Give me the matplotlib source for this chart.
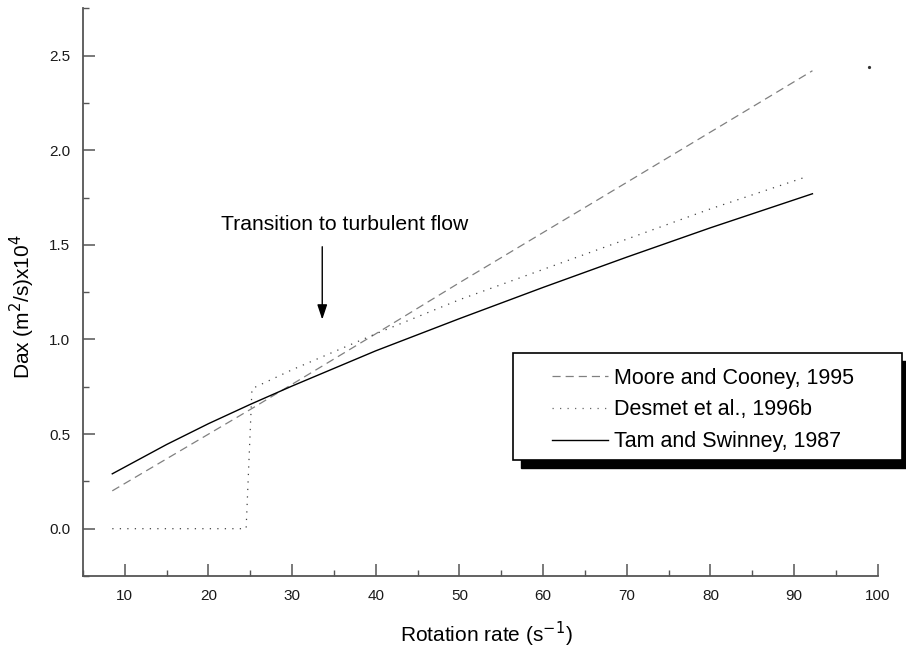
import matplotlib
matplotlib.use("Agg")
import matplotlib.pyplot as plt
from matplotlib.ticker import MultipleLocator
from matplotlib.patches import Rectangle
from matplotlib.lines import Line2D

plt.rcParams['font.family'] = ['Liberation Sans', 'DejaVu Sans']

# ---- data ----
moore_x = [8.5, 25, 40, 50, 70, 92.2]
moore_y = [0.20, 0.63, 1.03, 1.30, 1.83, 2.42]

desmet_x = [8.5, 24.5, 25.2, 30, 40, 50, 60, 70, 80, 91.5]
desmet_y = [0.0, 0.0, 0.74, 0.84, 1.03, 1.21, 1.37, 1.53, 1.69, 1.86]

tam_x = [8.5, 15, 20, 25, 30, 40, 50, 60, 70, 80, 92.2]
tam_y = [0.29, 0.445, 0.555, 0.657, 0.754, 0.94, 1.11, 1.275, 1.435, 1.59, 1.77]

stray_x = [99.0]
stray_y = [2.44]

arrow_x = 33.6
arrow_y_start = 1.49
arrow_y_end = 1.105
annot_text = "Transition to turbulent flow"
annot_x = 36.3
annot_y = 1.61

labels = ["Moore and Cooney, 1995", "Desmet et al., 1996b", "Tam and Swinney, 1987"]
x_ticks = [10, 20, 30, 40, 50, 60, 70, 80, 90, 100]
y_ticks = [0.0, 0.5, 1.0, 1.5, 2.0, 2.5]

W, H = 906, 651
fig = plt.figure(figsize=(W / 100, H / 100), dpi=100)
ax = fig.add_axes([83 / W, 75 / H, 794.7 / W, 567.7 / H])

ax.plot(moore_x, moore_y, color='#808080', lw=0.9, linestyle=(0, (6.5, 4)))
ax.plot(desmet_x, desmet_y, color='#444444', lw=0.9, linestyle=(0, (1, 5)))
ax.plot(tam_x, tam_y, color='black', lw=1.0)
ax.plot(stray_x, stray_y, 'o', color='#333333', markersize=1.3)

ax.set_xlim(5, 100)
ax.set_ylim(-0.25, 2.75)

ax.set_xticks(x_ticks)
ax.set_xticklabels([str(v) for v in x_ticks])
ax.set_yticks(y_ticks)
ax.set_yticklabels([f"{v:.1f}" for v in y_ticks])
ax.xaxis.set_minor_locator(MultipleLocator(5))
ax.yaxis.set_minor_locator(MultipleLocator(0.25))

for s in ['top', 'right']:
    ax.spines[s].set_visible(False)
for s in ['left', 'bottom']:
    ax.spines[s].set_color('#555555')
    ax.spines[s].set_linewidth(1.3)

ax.tick_params(which='major', direction='in', length=8.3, width=1.1, color='#555555',
               labelsize=11, labelcolor='#1a1a1a')
ax.tick_params(which='minor', direction='in', length=4.3, width=1.0, color='#555555')
ax.tick_params(axis='x', which='major', pad=9)
ax.tick_params(axis='y', which='major', pad=9)

ax.set_xlabel("Rotation rate (s$^{-1}$)", fontsize=15)
ax.set_ylabel("Dax (m$^2$/s)x10$^4$", fontsize=15)
ax.xaxis.set_label_coords(0.508, -0.078)
ax.yaxis.set_label_coords(-0.058, 0.475)

ax.annotate("", xy=(arrow_x, arrow_y_end), xytext=(arrow_x, arrow_y_start),
            arrowprops=dict(arrowstyle='-|>,head_length=0.9,head_width=0.3',
                            color='black', lw=1.0, shrinkA=0, shrinkB=0))
ax.text(annot_x, annot_y, annot_text, fontsize=15.2, ha='center', va='center')

# legend box with hard shadow
shadow = Rectangle((521 / W, (H - 468) / H), 389 / W, 107 / H, transform=fig.transFigure,
                   facecolor='black', edgecolor='black', zorder=0.9)
box = Rectangle((513 / W, (H - 460) / H), 389 / W, 107 / H, transform=fig.transFigure,
                facecolor='white', edgecolor='black', lw=1.2, zorder=1)
fig.add_artist(shadow)
fig.add_artist(box)

handles = [Line2D([], [], color='#808080', lw=0.9, linestyle=(0, (6.5, 4))),
           Line2D([], [], color='#666666', lw=0.9, linestyle=(0, (1, 5))),
           Line2D([], [], color='black', lw=1.0)]
leg = fig.legend(handles, labels, loc='center left',
                 bbox_to_anchor=(541 / W, 1 - 410 / H), frameon=False,
                 fontsize=15.5, borderpad=0, handlelength=2.6, handletextpad=0.3,
                 labelspacing=0.5)
leg.set_zorder(5)

fig.savefig("out.png", dpi=100)
